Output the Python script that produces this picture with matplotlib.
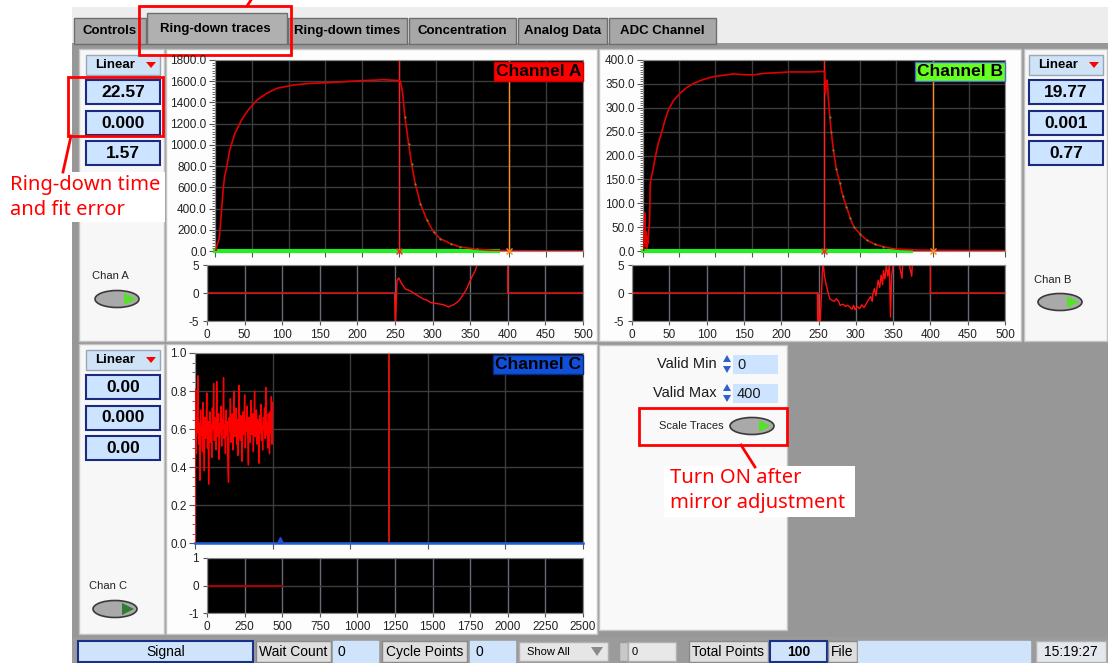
import numpy as np
import matplotlib.pyplot as plt
from matplotlib import font_manager
from matplotlib.patches import Rectangle, Ellipse, Polygon
from matplotlib.ticker import MultipleLocator, AutoMinorLocator, FormatStrFormatter

plt.rcParams['font.family'] = ['Liberation Sans', 'DejaVu Sans']
plt.rcParams['axes.unicode_minus'] = False

nan = np.nan

# ---- values ----
tab_names = ["Controls", "Ring-down traces", "Ring-down times", "Concentration", "Analog Data", "ADC Channel"]

# Channel A ring-down trace (sample index, signal)
a_x = [0, 1.5, 2, 4, 6, 8, 11, 13, 16, 20, 27, 36, 45, 57, 70, 84, 106, 129, 152, 175,
       197, 220, 228, 240, 251, 252.5, 255, 258, 263, 267, 272, 279, 288, 297, 306, 320,
       333, 356, 378, 400, 440, 500]
a_y = [0, 0, 38, 80, 132, 305, 573, 700, 793, 950, 1108, 1234, 1328, 1422, 1485, 1533,
       1564, 1580, 1586, 1595, 1605, 1611, 1615, 1610, 1605, 1580, 1485, 1265, 1013, 824,
       636, 447, 290, 179, 116, 69, 38, 16, 6, 3, 1, 0]
a_res_x = [0, 249.5, 250.4, 252.7, 254.9, 258, 263.7, 270, 277, 283, 288, 293, 297, 306,
           315, 321, 324, 328, 335, 341, 345, 348, 352, 357, 359, 361, nan, 400, 400, 500]
a_res_y = [0, 0, -6, 2.2, 2.7, 1.9, 0.7, 0.4, -0.2, -0.7, -1.1, -1.3, -1.7, -1.9, -2.1,
           -2.5, -2.3, -2.1, -1.4, -0.2, 0.6, 1.6, 2.8, 4.1, 5, 6, nan, 6, 0, 0]

# Channel B ring-down trace
b_x = [0, 1, 1.5, 2.5, 3, 4, 4.5, 5, 6, 7, 8, 9, 10, 11, 14, 17, 21, 26, 30, 35, 42, 51,
       60, 70, 83, 97, 111, 125, 140, 153, 167, 180, 192, 203, 230, 250, 251, 252, 253,
       254, 255, 256, 258, 260, 263, 267, 272, 276, 281, 286, 291, 300, 309, 320, 332,
       344, 355, 380, 401, 450, 500]
b_y = [0, 2, 45, 80, 20, 10, 40, 5, 30, 15, 45, 60, 142, 150, 172, 197, 225, 250, 272,
       295, 315, 330, 342, 351, 359, 365, 368, 371, 369, 369, 372, 373, 374, 375, 375, 376,
       376, 330, 350, 358, 345, 320, 281, 250, 211, 172, 142, 115, 93, 70, 51, 35, 23, 14,
       9, 5, 3.5, 2, 1.4, 1, 1]
b_res_x = [0, 248.5, 249, 249.5, 251, 252, 256, 258, 260, 262, 265, 268, 271, 274, 277,
           279, 283, 286, 289, 292, 295, 297, 299, 302, 305, 308, 311, 314, 317, 320, 322,
           323, 325, 327, 330, 332, 334, 336, 337, 339, 341, 343, 345, 346.5, 348, 350,
           352, 357, 362, 363, 370, 375, 376, nan, 400, 400, 500]
b_res_y = [0, 0, -6, 0, -6, -6, 6, 3, 1.7, 0.5, -1, -1.3, -1.5, -1, -1.5, -2.2, -2, -2.4,
           -2.2, -2.5, -2.9, -2.2, -3, -2.4, -2.8, -2.1, -2.6, -1.9, -1.2, -0.6, -1.5, -0.1,
           0.8, -0.5, 2.3, 1, 3.2, 1.5, 4, 2.5, 5, 3, 5, -4.3, 3, 5, 6, 6, 2.6, 6, 6, 3, 6,
           nan, 6, 0, 0]

# Channel C: noisy signal, one value every 4 samples from 0 to 500
c_noise = [0.00,
           0.81, 0.47, 0.66, 0.58, 0.88, 0.52, 0.63, 0.33, 0.70, 0.57,
           0.61, 0.48, 0.74, 0.59, 0.38, 0.66, 0.55, 0.62, 0.79, 0.50,
           0.64, 0.31, 0.58, 0.69, 0.53, 0.62, 0.45, 0.71, 0.60, 0.84,
           0.54, 0.66, 0.59, 0.49, 0.85, 0.61, 0.56, 0.68, 0.44, 0.63,
           0.58, 0.72, 0.51, 0.65, 0.60, 0.87, 0.55, 0.62, 0.47, 0.70,
           0.57, 0.64, 0.40, 0.32, 0.66, 0.59, 0.76, 0.53, 0.61, 0.68,
           0.49, 0.63, 0.80, 0.56, 0.60, 0.71, 0.52, 0.65, 0.46, 0.62,
           0.83, 0.58, 0.54, 0.67, 0.61, 0.43, 0.69, 0.57, 0.63, 0.78,
           0.50, 0.64, 0.59, 0.72, 0.55, 0.41, 0.66, 0.60, 0.53, 0.75,
           0.62, 0.57, 0.68, 0.48, 0.63, 0.80, 0.56, 0.61, 0.70, 0.52,
           0.65, 0.59, 0.42, 0.67, 0.58, 0.73, 0.54, 0.62, 0.49, 0.66,
           0.60, 0.71, 0.55, 0.82, 0.57, 0.64, 0.50, 0.68, 0.61, 0.47,
           0.69, 0.58, 0.77, 0.52, 0.74]
c_step = 4
c_res_x = [0, 500]
c_res_y = [0, 0]

chan_a_vals = ["22.57", "0.000", "1.57"]
chan_b_vals = ["19.77", "0.001", "0.77"]
chan_c_vals = ["0.00", "0.000", "0.00"]
cursor_ab = (250, 400)
cursor_c = 1250
green_end_a, green_end_b = 385, 370

status_items = [("Signal", 78, 253, '#cfe4fb', '#1a2f8a'), ("Wait Count", 256, 331, '#dedede', '#8a8a8a'),
                ("0", 333, 378, '#cfe4fb', '#cfe4fb'), ("Cycle Points", 382, 467, '#dedede', '#8a8a8a'),
                ("0", 470, 515, '#cfe4fb', '#cfe4fb'), ("Total Points", 689, 768, '#dedede', '#8a8a8a'),
                ("100", 770, 827, '#cfe4fb', '#1a2f8a'), ("File", 828, 857, '#dedede', '#8a8a8a'),
                ("", 858, 1030, '#cfe4fb', '#cfe4fb'), ("15:19:27", 1036, 1106, '#e4e8ee', '#b0b0b0')]

W, H = 1108, 663
fig = plt.figure(figsize=(W / 100, H / 100), dpi=100)
bg = fig.add_axes([0, 0, 1, 1])
bg.set_xlim(0, W)
bg.set_ylim(H, 0)
bg.axis('off')

fnames = {f.name for f in font_manager.fontManager.ttflist}
narrow = 'Liberation Sans Narrow' if 'Liberation Sans Narrow' in fnames else 'Liberation Sans'
bar_size = 12 if narrow == 'Liberation Sans Narrow' else 10


def ax_at(x0, y0, x1, y1):
    """axes from a pixel box (y measured from the top)"""
    return fig.add_axes([x0 / W, 1 - y1 / H, (x1 - x0) / W, (y1 - y0) / H])


def rect(x, y, w, h, fc, ec='none', lw=1, z=1):
    bg.add_patch(Rectangle((x, y), w, h, facecolor=fc, edgecolor=ec, linewidth=lw, zorder=z))


def toggle(cx, cy, tri):
    bg.add_patch(Ellipse((cx, cy), 44, 17, facecolor='#a9a9a9', edgecolor='#3a3a3a', lw=1.2, zorder=3))
    bg.add_patch(Polygon([[cx + 7, cy - 6], [cx + 7, cy + 6], [cx + 19, cy]],
                         closed=True, facecolor=tri, edgecolor='none', zorder=4))


def chan_column(x0, x1, y0, vals, label, ly, tx, ty, tri):
    rect(x0, y0, x1 - x0, 20, '#cfe3f7', '#9aa6b8', 1, 3)
    bg.text((x0 + x1) / 2 - 8, y0 + 10, "Linear", ha='center', va='center', fontsize=9.5,
            fontweight='bold', zorder=4)
    bg.add_patch(Polygon([[x1 - 14, y0 + 7], [x1 - 4, y0 + 7], [x1 - 9, y0 + 13]], closed=True,
                         facecolor='#ff0000', edgecolor='none', zorder=4))
    for i, v in enumerate(vals):
        yy = y0 + 25 + i * 30.5
        rect(x0, yy, x1 - x0, 24, '#cce4ff', '#1a2a80', 1.5, 3)
        bg.text((x0 + x1) / 2, yy + 12.5, v, ha='center', va='center', fontsize=12.5,
                fontweight='bold', zorder=4)
    bg.text(tx, ly, label, ha='center', va='center', fontsize=8, color='#222222', zorder=4)
    toggle(tx + 7, ty, tri)


def trace_axes(x0, y0, x1, y1, xmax, xstep, ymax, ystep, nminor, fmt):
    ax = ax_at(x0, y0, x1, y1)
    ax.set_facecolor('black')
    ax.set_xlim(0, xmax)
    ax.set_ylim(0, ymax)
    ax.xaxis.set_major_locator(MultipleLocator(xstep))
    ax.yaxis.set_major_locator(MultipleLocator(ystep))
    ax.yaxis.set_minor_locator(AutoMinorLocator(nminor))
    ax.yaxis.set_major_formatter(FormatStrFormatter(fmt))
    ax.tick_params(axis='x', labelbottom=False, length=4, color='#555555')
    ax.tick_params(axis='y', which='major', length=4, pad=2, labelsize=8.5,
                   color='#555555', labelcolor='#222222')
    ax.tick_params(axis='y', which='minor', length=2, color='#555555')
    ax.grid(True, color='#3c3c3c', lw=1)
    ax.set_axisbelow(True)
    for s in ax.spines.values():
        s.set_color('#8a8a8a')
    return ax


def resid_axes(x0, y0, x1, y1, xmax, xstep, lim):
    ax = ax_at(x0, y0, x1, y1)
    ax.set_facecolor('black')
    ax.set_xlim(0, xmax)
    ax.set_ylim(-lim, lim)
    ax.set_yticks([-lim, 0, lim])
    ax.xaxis.set_major_locator(MultipleLocator(xstep))
    ax.tick_params(length=3, pad=3, labelsize=8.5, color='#555555', labelcolor='#222222')
    ax.grid(True, axis='x', color='#6a6a7a', lw=1)
    ax.grid(True, axis='y', color='#3c3c3c', lw=1)
    ax.set_axisbelow(True)
    for s in ax.spines.values():
        s.set_color('#8a8a8a')
    return ax


def chan_label(ax, text, fc, ec):
    ax.annotate(text, xy=(1, 1), xycoords='axes fraction', xytext=(-2, -4),
                textcoords='offset pixels', ha='right', va='top', fontsize=12.5, fontweight='bold',
                color='black', bbox=dict(boxstyle='square,pad=0.1', fc=fc, ec=ec, lw=1))


# ---- window background, tabs, panels ----
rect(0, 0, W, H, 'white', z=0)
rect(72, 7, W - 72, 36, '#ededed', z=0)
rect(72, 43, W - 72, 594, '#979797', z=0)
rect(72, 637, W - 72, 26, '#9b9b9b', z=0)

tab_edges = [(74, 146), (146, 287), (288, 407), (409, 516), (518, 607), (609, 716)]
for i, (name, (t0, t1)) in enumerate(zip(tab_names, tab_edges)):
    if i == 1:
        continue
    rect(t0, 18, t1 - t0, 26, '#a7a7a7', '#6e6e6e', 1, 1)
    bg.text((t0 + t1) / 2, 31, name, ha='center', va='center', fontsize=9.5, fontweight='bold', zorder=2)
rect(147, 13, 140, 31, '#b0b0b0', '#6e6e6e', 1, 2)
bg.text(215, 29, tab_names[1], ha='center', va='center', fontsize=9.5, fontweight='bold', zorder=3)

rect(79, 49, 85, 292, '#f7f7f7', '#c4c4c4', 1, 2)
rect(166, 49, 431, 292, '#fdfdfd', '#c4c4c4', 1, 2)
rect(599, 49, 422, 292, '#fdfdfd', '#c4c4c4', 1, 2)
rect(1024, 49, 83, 292, '#f7f7f7', '#c4c4c4', 1, 2)
rect(79, 344, 85, 290, '#f7f7f7', '#c4c4c4', 1, 2)
rect(166, 344, 431, 290, '#fdfdfd', '#c4c4c4', 1, 2)
rect(599, 345, 188, 285, '#f9f9f9', '#c4c4c4', 1, 2)

chan_column(86, 160, 55, chan_a_vals, "Chan A", 276, 110, 299, '#55e02a')
chan_column(1029, 1103, 55, chan_b_vals, "Chan B", 280, 1053, 302, '#55e02a')
chan_column(86, 160, 350, chan_c_vals, "Chan C", 586, 108, 609, '#2f7d2f')

# scale traces panel
for lbl, val, yy in [("Valid Min", "0", 364), ("Valid Max", "400", 393)]:
    bg.text(717, yy, lbl, ha='right', va='center', fontsize=10.5, color='#1a1a1a', zorder=4)
    rect(733, yy - 9, 45, 19, '#cce4ff', z=3)
    bg.text(737, yy + 1, val, ha='left', va='center', fontsize=10.5, color='#1a1a1a', zorder=4)
    bg.add_patch(Polygon([[723, yy - 2], [731, yy - 2], [727, yy - 9]], closed=True,
                         facecolor='#2f5fcf', edgecolor='none', zorder=4))
    bg.add_patch(Polygon([[723, yy + 2], [731, yy + 2], [727, yy + 9]], closed=True,
                         facecolor='#2f5fcf', edgecolor='none', zorder=4))
bg.text(691, 426, "Scale Traces", ha='center', va='center', fontsize=8, color='#222222', zorder=4)
toggle(752, 426, '#55e02a')

# status bar
for txt, s0, s1, fc, ec in status_items:
    rect(s0, 641, s1 - s0, 21, fc, ec, 1.5 if ec == '#1a2f8a' else 1, 3)
    if txt in ("0",):
        bg.text(s0 + 5, 652, txt, ha='left', va='center', fontsize=bar_size, family=narrow, zorder=4)
    elif txt:
        bg.text((s0 + s1) / 2, 652, txt, ha='center', va='center', fontsize=bar_size,
                family=narrow, fontweight='bold' if txt == "100" else 'normal', zorder=4)
rect(519, 642, 89, 19, '#e6e6e6', '#b0b0b0', 1, 3)
bg.text(548, 652, "Show All", ha='center', va='center', fontsize=8, family=narrow, zorder=4)
bg.add_patch(Polygon([[591, 647], [603, 647], [597, 656]], closed=True, facecolor='#8a8a8a',
                     edgecolor='none', zorder=4))
rect(619, 642, 9, 19, '#c8c8c8', '#9a9a9a', 1, 3)
rect(628, 642, 48, 19, '#e8e8e8', '#b0b0b0', 1, 3)
bg.text(632, 652, "0", ha='left', va='center', fontsize=8, family=narrow, zorder=4)

# ---- Channel A ----
ax = trace_axes(215, 60, 583, 251, 500, 50, 1800, 200, 8, '%.1f')
ax.axvline(cursor_ab[0], color='#ff2020', lw=1)
ax.axvline(cursor_ab[1], color='#ff8c1a', lw=1)
ax.plot([0, green_end_a], [0, 0], color='#22ee22', lw=3, clip_on=False, zorder=3)
ax.plot(a_x, a_y, color='#e00000', lw=1.2, zorder=4)
ax.plot(a_x[27:38], a_y[27:38], ls='none', marker='.', ms=1, color='#33bb33', zorder=5)
ax.plot(cursor_ab[0], 0, marker='x', ms=4, color='#ff2020', clip_on=False, zorder=6)
ax.plot(cursor_ab[1], 0, marker='x', ms=4, color='#ff8c1a', clip_on=False, zorder=6)
chan_label(ax, "Channel A", '#ff0000', '#d00000')

ax = resid_axes(207, 265, 583, 321, 500, 50, 5)
ax.plot(a_res_x, a_res_y, color='#ff1010', lw=1)

# ---- Channel B ----
ax = trace_axes(643, 60, 1005, 251, 500, 50, 400, 50, 10, '%.1f')
ax.axvline(cursor_ab[0], color='#ff2020', lw=1)
ax.axvline(cursor_ab[1], color='#ff8c1a', lw=1)
ax.plot([0, green_end_b], [0, 0], color='#22ee22', lw=3, clip_on=False, zorder=3)
ax.plot(b_x, b_y, color='#e00000', lw=1.2, zorder=4)
ax.plot(b_x[42:56], b_y[42:56], ls='none', marker='.', ms=1, color='#33bb33', zorder=5)
ax.plot(cursor_ab[0], 0, marker='x', ms=4, color='#ff2020', clip_on=False, zorder=6)
ax.plot(cursor_ab[1], 0, marker='x', ms=4, color='#ff8c1a', clip_on=False, zorder=6)
chan_label(ax, "Channel B", '#66ff22', '#4a6ad0')

ax = resid_axes(632, 265, 1005, 321, 500, 50, 5)
ax.plot(b_res_x, b_res_y, color='#ff1010', lw=1)

# ---- Channel C ----
ax = trace_axes(195, 353, 583, 543, 2500, 500, 1.0, 0.2, 4, '%.1f')
ax.axvline(cursor_c, color='#ff1010', lw=1.2)
ax.plot([0, 2500], [0, 0], color='#1f5fd8', lw=1.8, clip_on=False, zorder=3)
c_x = np.arange(len(c_noise)) * c_step
ax.plot(c_x, c_noise, color='#ff0000', lw=1, zorder=4)
ax.plot(550, 0.015, marker='^', ms=4, color='#2050d0', zorder=5)
chan_label(ax, "Channel C", '#1050d8', '#0a2a80')

ax = resid_axes(207, 558, 583, 613, 2500, 250, 1)
ax.plot(c_res_x, c_res_y, color='#b00000', lw=1.4)

# ---- red annotations ----
rect(139, 6, 152, 49, 'none', '#ff0000', 2, 10)
bg.plot([247, 251], [6, 0], color='#ff0000', lw=2, zorder=10)

rect(68, 77, 95, 59, 'none', '#ff0000', 2, 10)
bg.plot([71, 63], [136, 172], color='#ff0000', lw=2, zorder=10)
rect(4, 172, 161, 50, 'white', z=9)
bg.text(10, 185, "Ring-down time", ha='left', va='center', fontsize=14.5, color='#ff0000',
        family='Noto Sans', zorder=11)
bg.text(10, 210, "and fit error", ha='left', va='center', fontsize=14.5, color='#ff0000',
        family='Noto Sans', zorder=11)

rect(639, 408, 148, 37, 'none', '#ff0000', 2, 10)
bg.plot([741, 755], [445, 467], color='#ff0000', lw=2, zorder=10)
rect(664, 466, 191, 51, 'white', z=9)
bg.text(670, 478, "Turn ON after", ha='left', va='center', fontsize=14.5, color='#ff0000',
        family='Noto Sans', zorder=11)
bg.text(670, 503, "mirror adjustment", ha='left', va='center', fontsize=14.5, color='#ff0000',
        family='Noto Sans', zorder=11)

fig.savefig('out.png', dpi=100)
